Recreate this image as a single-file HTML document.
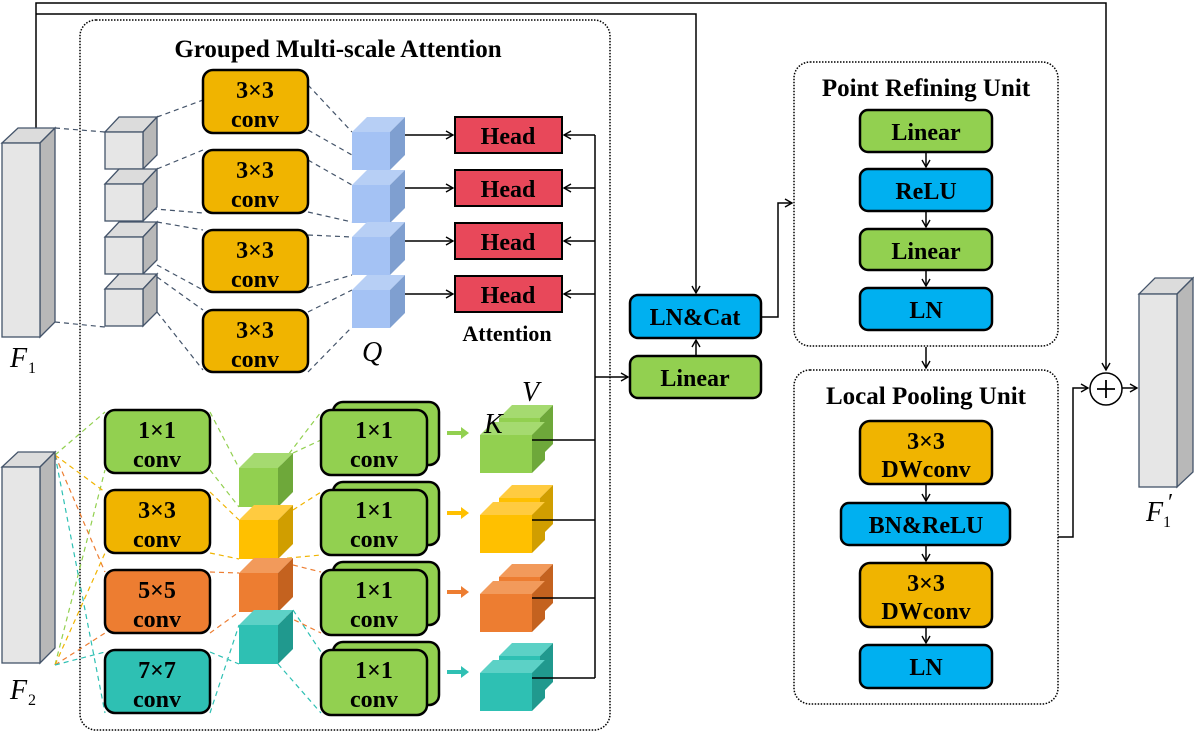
<!DOCTYPE html>
<html><head><meta charset="utf-8"><style>html,body{margin:0;padding:0;background:#fff}svg{display:block}</style></head>
<body>
<svg width="1194" height="734" viewBox="0 0 1194 734" xmlns="http://www.w3.org/2000/svg" font-family="Liberation Serif, serif">
<defs>
<marker id="a" markerWidth="10" markerHeight="10" refX="8" refY="5" orient="auto" markerUnits="userSpaceOnUse"><path d="M1,1 L8,5 L1,9" fill="none" stroke="#000" stroke-width="1.4"/></marker>
</defs>
<g fill="none" stroke="#000" stroke-width="1.5" stroke-dasharray="1.5,1.5">
<rect x="80" y="20" width="530" height="710" rx="16"/>
<rect x="794" y="62" width="264" height="284" rx="16"/>
<rect x="794" y="370" width="264" height="334" rx="16"/>
</g>
<g fill="none" stroke="#000" stroke-width="1.5">
<path d="M36,128 V3 H1106 V370" marker-end="url(#a)"/>
<path d="M36,14 H696 V293" marker-end="url(#a)"/>
<path d="M761,317 H778 V203 H792" marker-end="url(#a)"/>
<path d="M696,356 V340" marker-end="url(#a)"/>
<path d="M595,377 H628" marker-end="url(#a)"/>
<path d="M926,347 V368" marker-end="url(#a)"/>
<path d="M1058,537 H1073 V388 H1088" marker-end="url(#a)"/>
<path d="M1122,388 H1137" marker-end="url(#a)"/>
<path d="M595,135 V678"/>
<path d="M595,135 H564" marker-end="url(#a)"/>
<path d="M595,188 H564" marker-end="url(#a)"/>
<path d="M595,241 H564" marker-end="url(#a)"/>
<path d="M595,294 H564" marker-end="url(#a)"/>
<path d="M405,135 H453" marker-end="url(#a)"/>
<path d="M405,188 H453" marker-end="url(#a)"/>
<path d="M405,241 H453" marker-end="url(#a)"/>
<path d="M405,294 H453" marker-end="url(#a)"/>
<path d="M926,152 V167" marker-end="url(#a)"/>
<path d="M926,211 V227" marker-end="url(#a)"/>
<path d="M926,270 V286" marker-end="url(#a)"/>
<path d="M926,484 V501" marker-end="url(#a)"/>
<path d="M926,545 V561" marker-end="url(#a)"/>
<path d="M926,627 V643" marker-end="url(#a)"/>
</g>
<circle cx="1106" cy="389" r="16" fill="#fff" stroke="#000" stroke-width="1.5"/>
<path d="M1097,389 H1115 M1106,380 V398" stroke="#000" stroke-width="1.8"/>
<g stroke="#44546A" stroke-width="1.2" stroke-dasharray="5,4" fill="none">
<path d="M55,128 L105,132 M55,322 L105,327"/>
<path d="M157,117 L203,100 M157,169 L203,150 M143,208 L203,213 M157,222 L203,230 M157,265 L203,290 M157,277 L203,310 M157,312 L203,370"/>
<path d="M308,85 L352,132 M308,130 L352,155 M308,160 L352,185 M308,212 L352,222 M308,235 L352,237 M308,288 L352,275 M308,312 L352,290 M308,372 L352,327"/>
</g>
<g stroke-width="1.2" stroke-dasharray="5,4" fill="none">
<path stroke="#92D050" d="M55,455 L105,412 M55,665 L105,470 M210,412 L239,468 M210,470 L239,507 M278,468 L321,412 M293,453 L321,440"/>
<path stroke="#F0B400" d="M55,455 L105,492 M55,665 L105,553 M210,492 L239,520 M210,553 L239,559 M293,510 L321,492 M278,559 L321,555"/>
<path stroke="#ED7D31" d="M55,455 L105,572 M55,665 L105,633 M210,572 L239,573 M210,633 L239,612 M293,565 L321,572 M278,612 L321,633"/>
<path stroke="#2EC0B3" d="M55,455 L105,713 M55,665 L105,652 M210,652 L239,664 M210,713 L239,625 M293,610 L321,652 M278,664 L321,713"/>
</g>
<g stroke="#44546A" stroke-width="1.3">
<path d="M2,143 L18,128 L55,128 L40,143Z" fill="#dcdcdc"/><path d="M40,143 L55,128 L55,322 L40,337Z" fill="#b8b8b8"/><rect x="2" y="143" width="38" height="194" fill="#e6e6e6"/>
<path d="M2,467 L18,452 L55,452 L40,467Z" fill="#dcdcdc"/><path d="M40,467 L55,452 L55,648 L40,663Z" fill="#b8b8b8"/><rect x="2" y="467" width="38" height="196" fill="#e6e6e6"/>
<path d="M1139,294 L1155,278 L1193,278 L1177,294Z" fill="#dcdcdc"/><path d="M1177,294 L1193,278 L1193,472 L1177,487Z" fill="#b8b8b8"/><rect x="1139" y="294" width="38" height="193" fill="#e6e6e6"/>
</g>
<g stroke="#44546A" stroke-width="1.3">
<g id="gc"><path d="M105,132 L119,117 L157,117 L143,132Z" fill="#dcdcdc"/><path d="M143,132 L157,117 L157,155 L143,169Z" fill="#b8b8b8"/><rect x="105" y="132" width="38" height="37" fill="#e6e6e6"/></g>
<use href="#gc" y="52"/><use href="#gc" y="105"/><use href="#gc" y="157"/>
</g>
<g id="qc"><path d="M352,132 L367,117 L405,117 L390,132Z" fill="#b7cff5"/><path d="M390,132 L405,117 L405,155 L390,170Z" fill="#7f9fd0"/><rect x="352" y="132" width="38" height="38" fill="#a4c2f4"/></g>
<use href="#qc" y="53"/><use href="#qc" y="105"/><use href="#qc" y="158"/>
<g>
<path d="M239,468 L254,453 L293,453 L278,468Z" fill="#a5da70"/><path d="M278,468 L293,453 L293,492 L278,507Z" fill="#6ea83a"/><rect x="239" y="468" width="39" height="39" fill="#92D050"/>
<path d="M239,520 L254,505 L293,505 L278,520Z" fill="#ffcb40"/><path d="M278,520 L293,505 L293,544 L278,559Z" fill="#d09e00"/><rect x="239" y="520" width="39" height="39" fill="#FFC000"/>
<path d="M239,573 L254,558 L293,558 L278,573Z" fill="#f29a5b"/><path d="M278,573 L293,558 L293,597 L278,612Z" fill="#c4621f"/><rect x="239" y="573" width="39" height="39" fill="#ED7D31"/>
<path d="M239,625 L254,610 L293,610 L278,625Z" fill="#5cd1c6"/><path d="M278,625 L293,610 L293,649 L278,664Z" fill="#20998e"/><rect x="239" y="625" width="39" height="39" fill="#2EC0B3"/>
</g>
<g>
<g><path d="M499,418 L512,405 L553,405 L540,418Z" fill="#a5da70"/><path d="M540,418 L553,405 L553,444 L540,457Z" fill="#6ea83a"/><rect x="499" y="418" width="41" height="39" fill="#92D050"/>
<path d="M480,435 L493,422 L545,422 L532,435Z" fill="#a5da70"/><path d="M532,435 L545,422 L545,460 L532,473Z" fill="#6ea83a"/><rect x="480" y="435" width="52" height="38" fill="#92D050"/></g>
<g transform="translate(0,80)"><path d="M499,418 L512,405 L553,405 L540,418Z" fill="#ffcb40"/><path d="M540,418 L553,405 L553,444 L540,457Z" fill="#d09e00"/><rect x="499" y="418" width="41" height="39" fill="#FFC000"/>
<path d="M480,435 L493,422 L545,422 L532,435Z" fill="#ffcb40"/><path d="M532,435 L545,422 L545,460 L532,473Z" fill="#d09e00"/><rect x="480" y="435" width="52" height="38" fill="#FFC000"/></g>
<g transform="translate(0,159)"><path d="M499,418 L512,405 L553,405 L540,418Z" fill="#f29a5b"/><path d="M540,418 L553,405 L553,444 L540,457Z" fill="#c4621f"/><rect x="499" y="418" width="41" height="39" fill="#ED7D31"/>
<path d="M480,435 L493,422 L545,422 L532,435Z" fill="#f29a5b"/><path d="M532,435 L545,422 L545,460 L532,473Z" fill="#c4621f"/><rect x="480" y="435" width="52" height="38" fill="#ED7D31"/></g>
<g transform="translate(0,238)"><path d="M499,418 L512,405 L553,405 L540,418Z" fill="#5cd1c6"/><path d="M540,418 L553,405 L553,444 L540,457Z" fill="#20998e"/><rect x="499" y="418" width="41" height="39" fill="#2EC0B3"/>
<path d="M480,435 L493,422 L545,422 L532,435Z" fill="#5cd1c6"/><path d="M532,435 L545,422 L545,460 L532,473Z" fill="#20998e"/><rect x="480" y="435" width="52" height="38" fill="#2EC0B3"/></g>
</g>
<path d="M532,440 H595 M532,520 H595 M532,598 H595 M532,678 H595" stroke="#000" stroke-width="1.5"/>
<g stroke-width="4" fill="none">
<path d="M447,433 H462" stroke="#92D050"/><path d="M461,427 L469,433 L461,439Z" fill="#92D050" stroke="none"/>
<path d="M447,513 H462" stroke="#FFC000"/><path d="M461,507 L469,513 L461,519Z" fill="#FFC000" stroke="none"/>
<path d="M447,592 H462" stroke="#ED7D31"/><path d="M461,586 L469,592 L461,598Z" fill="#ED7D31" stroke="none"/>
<path d="M447,672 H462" stroke="#2EC0B3"/><path d="M461,666 L469,672 L461,678Z" fill="#2EC0B3" stroke="none"/>
</g>
<g stroke="#000" stroke-width="2.5">
<rect x="203" y="70" width="105" height="63" rx="10" fill="#F0B400"/>
<rect x="203" y="150" width="105" height="63" rx="10" fill="#F0B400"/>
<rect x="203" y="230" width="105" height="62" rx="10" fill="#F0B400"/>
<rect x="203" y="310" width="105" height="62" rx="10" fill="#F0B400"/>
<rect x="455" y="117" width="107" height="36" fill="#E8485A" stroke-width="2"/>
<rect x="455" y="170" width="107" height="36" fill="#E8485A" stroke-width="2"/>
<rect x="455" y="223" width="107" height="36" fill="#E8485A" stroke-width="2"/>
<rect x="455" y="276" width="107" height="36" fill="#E8485A" stroke-width="2"/>
<rect x="105" y="410" width="105" height="63" rx="10" fill="#92D050"/>
<rect x="105" y="490" width="105" height="63" rx="10" fill="#F0B400"/>
<rect x="105" y="570" width="105" height="63" rx="10" fill="#ED7D31"/>
<rect x="105" y="650" width="105" height="63" rx="10" fill="#2EC0B3"/>
<g fill="#92D050">
<rect x="333" y="402" width="106" height="63" rx="10"/><rect x="321" y="410" width="106" height="65" rx="10"/>
<rect x="333" y="482" width="106" height="63" rx="10"/><rect x="321" y="490" width="106" height="65" rx="10"/>
<rect x="333" y="562" width="106" height="63" rx="10"/><rect x="321" y="570" width="106" height="65" rx="10"/>
<rect x="333" y="642" width="106" height="63" rx="10"/><rect x="321" y="650" width="106" height="65" rx="10"/>
</g>
<rect x="630" y="295" width="131" height="43" rx="8" fill="#00B0F0"/>
<rect x="630" y="356" width="131" height="42" rx="8" fill="#92D050"/>
<rect x="860" y="110" width="132" height="42" rx="8" fill="#92D050"/>
<rect x="860" y="169" width="132" height="42" rx="8" fill="#00B0F0"/>
<rect x="860" y="229" width="132" height="41" rx="8" fill="#92D050"/>
<rect x="860" y="288" width="132" height="42" rx="8" fill="#00B0F0"/>
<rect x="860" y="421" width="132" height="63" rx="10" fill="#F0B400"/>
<rect x="841" y="503" width="169" height="42" rx="8" fill="#00B0F0"/>
<rect x="860" y="563" width="132" height="64" rx="10" fill="#F0B400"/>
<rect x="860" y="645" width="132" height="43" rx="8" fill="#00B0F0"/>
</g>
<g font-weight="bold" font-size="24" text-anchor="middle" fill="#000">
<text x="338" y="57" font-size="25">Grouped Multi-scale Attention</text>
<text x="926" y="96" font-size="25">Point Refining Unit</text>
<text x="926" y="404" font-size="25">Local Pooling Unit</text>
<text x="255" y="98">3×3</text><text x="255" y="127">conv</text>
<text x="255" y="178">3×3</text><text x="255" y="207">conv</text>
<text x="255" y="258">3×3</text><text x="255" y="287">conv</text>
<text x="255" y="338">3×3</text><text x="255" y="367">conv</text>
<text x="508" y="144">Head</text><text x="508" y="197">Head</text><text x="508" y="250">Head</text><text x="508" y="303">Head</text>
<text x="507" y="341" font-size="22">Attention</text>
<text x="157" y="438">1×1</text><text x="157" y="467">conv</text>
<text x="157" y="518">3×3</text><text x="157" y="547">conv</text>
<text x="157" y="598">5×5</text><text x="157" y="627">conv</text>
<text x="157" y="678">7×7</text><text x="157" y="707">conv</text>
<text x="374" y="438">1×1</text><text x="374" y="467">conv</text>
<text x="374" y="518">1×1</text><text x="374" y="547">conv</text>
<text x="374" y="598">1×1</text><text x="374" y="627">conv</text>
<text x="374" y="678">1×1</text><text x="374" y="707">conv</text>
<text x="695" y="325">LN&amp;Cat</text>
<text x="695" y="386">Linear</text>
<text x="926" y="140">Linear</text>
<text x="926" y="199">ReLU</text>
<text x="926" y="259">Linear</text>
<text x="926" y="318">LN</text>
<text x="926" y="449">3×3</text><text x="926" y="477">DWconv</text>
<text x="926" y="533">BN&amp;ReLU</text>
<text x="926" y="591">3×3</text><text x="926" y="619">DWconv</text>
<text x="926" y="675">LN</text>
</g>
<g font-style="italic" font-size="28" fill="#000">
<text x="10" y="367">F</text><text x="28" y="373" font-size="16" font-style="normal">1</text>
<text x="10" y="699">F</text><text x="28" y="705" font-size="16" font-style="normal">2</text>
<text x="1146" y="521">F</text><text x="1163" y="527" font-size="16" font-style="normal">1</text><text x="1168" y="510" font-size="24" font-style="normal">′</text>
<text x="362" y="361">Q</text>
<text x="484" y="433">K</text>
<text x="522" y="401">V</text>
</g>
</svg>
</body></html>
